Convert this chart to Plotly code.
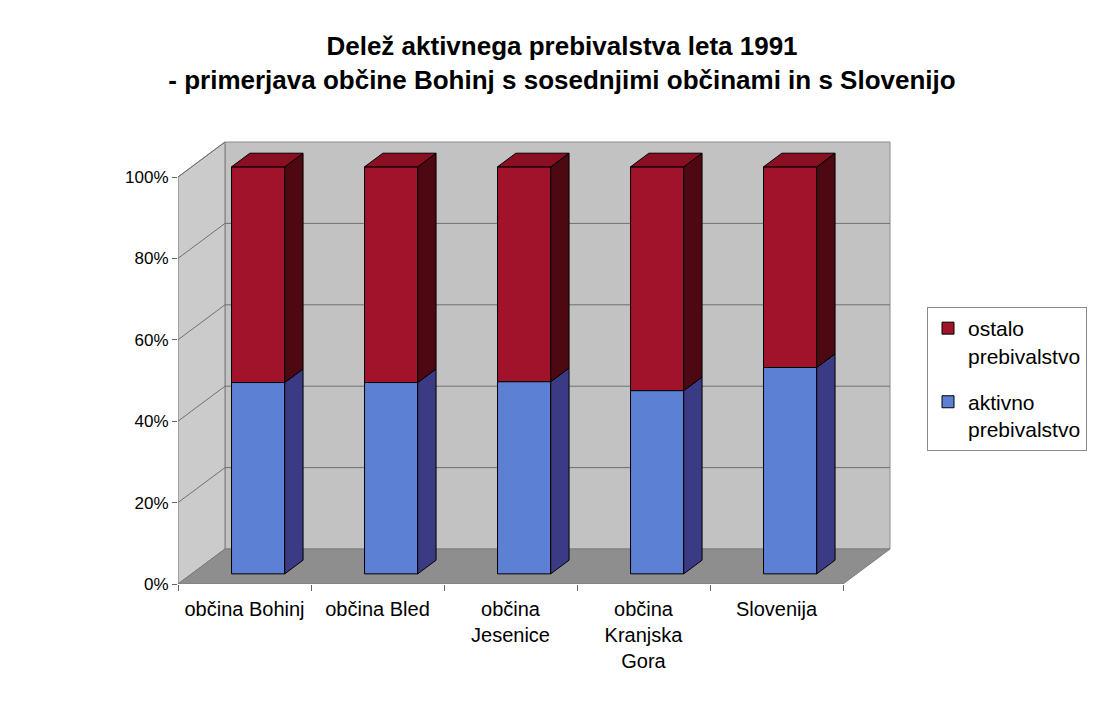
import plotly.graph_objects as go

# ---------------- data ----------------
categories = ["občina Bohinj", "občina Bled", "občina<br>Jesenice",
              "občina<br>Kranjska<br>Gora", "Slovenija"]
aktivno = [47.0, 47.0, 47.2, 45.0, 50.7]      # aktivno prebivalstvo (%)
ostalo = [53.0, 53.0, 52.8, 55.0, 49.3]       # ostalo prebivalstvo (%)
series_names = ["aktivno<br>prebivalstvo", "ostalo<br>prebivalstvo"]
y_ticks = [0, 20, 40, 60, 80, 100]
y_tick_labels = ["0%", "20%", "40%", "60%", "80%", "100%"]
title_lines = ["Delež aktivnega prebivalstva leta 1991",
               "- primerjava občine Bohinj s sosednjimi občinami in s Slovenijo"]

# ---------------- styling / pseudo-3D projection ----------------
DX, DY = 0.3534, 8.6        # full depth vector of the 3D box, in axis units
F0, F1 = 0.29, 0.68         # depth span occupied by the bars
BW = 0.40                   # bar width (category units)
C_BLUE, C_BLUE_SIDE = "#5b80d4", "#3b3a84"
C_RED, C_RED_SIDE, C_RED_TOP = "#a0132b", "#4e0812", "#8a0f22"
FONT = "Liberation Sans, Arial, sans-serif"

xs = list(range(len(categories)))
ox, oy = F0 * DX, F0 * DY
bdx, bdy = (F1 - F0) * DX, (F1 - F0) * DY
xl0, xr0 = -0.5, len(categories) - 0.5

fig = go.Figure()

# front faces (stacked manually through base); "ostalo" first so it leads the legend
fig.add_trace(go.Bar(
    x=[i + ox for i in xs], y=ostalo, base=[oy + a for a in aktivno], width=BW,
    name=series_names[1], legendgroup="b",
    marker=dict(color=C_RED, line=dict(color="black", width=1)),
    hovertemplate="%{y:.1f}%<extra></extra>"))
fig.add_trace(go.Bar(
    x=[i + ox for i in xs], y=aktivno, base=[oy] * len(xs), width=BW,
    name=series_names[0], legendgroup="a",
    marker=dict(color=C_BLUE, line=dict(color="black", width=1)),
    hovertemplate="%{y:.1f}%<extra></extra>"))


def side_faces(lows, highs):
    px, py = [], []
    for i, (lo, hi) in enumerate(zip(lows, highs)):
        xr = i + ox + BW / 2
        y0, y1 = lo + oy, hi + oy
        px += [xr, xr + bdx, xr + bdx, xr, xr, None]
        py += [y0, y0 + bdy, y1 + bdy, y1, y0, None]
    return px, py


def top_faces(tops):
    px, py = [], []
    for i, t in enumerate(tops):
        xl, xr = i + ox - BW / 2, i + ox + BW / 2
        y = t + oy
        px += [xl, xl + bdx, xr + bdx, xr, xl, None]
        py += [y, y + bdy, y + bdy, y, y, None]
    return px, py


totals = [a + o for a, o in zip(aktivno, ostalo)]
sx, sy = side_faces([0] * len(xs), aktivno)
fig.add_trace(go.Scatter(x=sx, y=sy, mode="lines", fill="toself", fillcolor=C_BLUE_SIDE,
                         line=dict(color="black", width=1), showlegend=False, hoverinfo="skip"))
sx, sy = side_faces(aktivno, totals)
fig.add_trace(go.Scatter(x=sx, y=sy, mode="lines", fill="toself", fillcolor=C_RED_SIDE,
                         line=dict(color="black", width=1), showlegend=False, hoverinfo="skip"))
tx, ty = top_faces(totals)
fig.add_trace(go.Scatter(x=tx, y=ty, mode="lines", fill="toself", fillcolor=C_RED_TOP,
                         line=dict(color="black", width=1), showlegend=False, hoverinfo="skip"))

# walls and floor
ymax = y_ticks[-1]
shapes = []


def path(pts):
    return "M " + " L ".join(f"{x},{y}" for x, y in pts) + " Z"


shapes.append(dict(type="path", xref="x", yref="y", layer="below",
                   path=path([(xl0 + DX, DY), (xr0 + DX, DY), (xr0 + DX, ymax + DY), (xl0 + DX, ymax + DY)]),
                   fillcolor="#c2c2c2", line=dict(color="#8a8a8a", width=1)))
shapes.append(dict(type="path", xref="x", yref="y", layer="below",
                   path=path([(xl0, 0), (xl0 + DX, DY), (xl0 + DX, ymax + DY), (xl0, ymax)]),
                   fillcolor="#cbcbcb", line=dict(color="#7a7a7a", width=1)))
shapes.append(dict(type="path", xref="x", yref="y", layer="below",
                   path=path([(xl0, 0), (xr0, 0), (xr0 + DX, DY), (xl0 + DX, DY)]),
                   fillcolor="#8e8e8e", line=dict(color="#7a7a7a", width=1)))
for t in y_ticks[1:-1]:
    shapes.append(dict(type="line", xref="x", yref="y", layer="below",
                       x0=xl0 + DX, y0=t + DY, x1=xr0 + DX, y1=t + DY,
                       line=dict(color="#707070", width=1)))
for t in y_ticks[1:]:
    shapes.append(dict(type="line", xref="x", yref="y", layer="below",
                       x0=xl0, y0=t, x1=xl0 + DX, y1=t + DY,
                       line=dict(color="#707070", width=1)))

# page body has an 8px margin -> figure coordinates = reference pixels - 8
OFF = 8
W, H = 1107 - OFF, 714 - OFF
L, R, T, B = 178 - OFF, 900 - OFF, 130 - OFF, 584 - OFF
px_per_cat = 133.0
px_per_pct = 4.07

fig.update_layout(
    width=W, height=H,
    margin=dict(l=L, r=W - R, t=T, b=H - B, pad=0, autoexpand=False),
    paper_bgcolor="white", plot_bgcolor="rgba(0,0,0,0)",
    barmode="overlay",
    shapes=shapes,
    font=dict(family=FONT, size=18, color="black"),
    title=dict(text="<b>" + title_lines[0] + "<br>" + title_lines[1] + "</b>",
               x=(562 - OFF) / W, xref="container", xanchor="center",
               y=1 - (55 - OFF) / H, yref="container", yanchor="top",
               font=dict(family=FONT, size=26, color="black")),
    xaxis=dict(range=[xl0, xl0 + (R - L) / px_per_cat], tickvals=xs, ticktext=categories,
               ticks="", showgrid=False, zeroline=False, showline=False,
               tickfont=dict(size=20), ticklabelstandoff=11,
               minor=dict(tickvals=[i - 0.5 for i in range(len(xs) + 1)], ticks="outside",
                          ticklen=6, tickcolor="#666", showgrid=False)),
    yaxis=dict(range=[0, (B - T) / px_per_pct], tickvals=y_ticks, ticktext=y_tick_labels,
               ticks="outside", ticklen=5, tickcolor="#666", showgrid=False,
               zeroline=False, showline=False, tickfont=dict(size=17)),
    legend=dict(x=(927 - OFF) / W, xref="container", xanchor="left",
                y=1 - (307 - OFF) / H, yref="container", yanchor="top",
                traceorder="grouped", valign="top",
                bordercolor="#8a8a8a", borderwidth=1, bgcolor="white",
                font=dict(size=21), tracegroupgap=16),
)

fig.write_html("out.html")
